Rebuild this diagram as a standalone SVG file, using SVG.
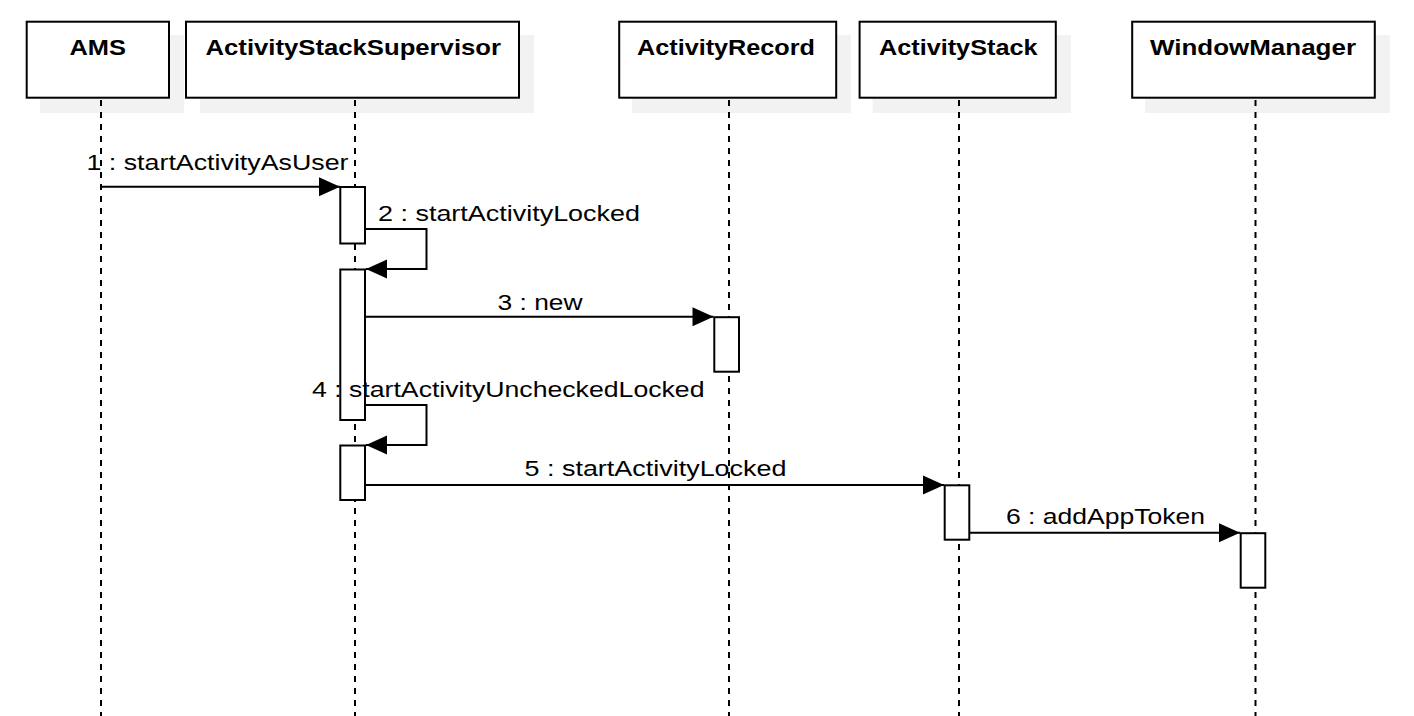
<svg xmlns="http://www.w3.org/2000/svg" width="1414" height="716" viewBox="0 0 1414 716">
<style>
.shadow{fill:#f2f2f2;stroke:none}
.box{fill:#ffffff;stroke:#000;stroke-width:2}
.title{font-family:"Liberation Sans",Arial,Helvetica,sans-serif;font-weight:bold;font-size:22.5px;fill:#000}
.life{stroke:#000;stroke-width:2;stroke-dasharray:6 6;fill:none}
.act{fill:#fff;stroke:#000;stroke-width:2}
.msg{stroke:#000;stroke-width:2;fill:none;marker-end:url(#arr)}
.lbl{font-family:"Liberation Sans",Arial,Helvetica,sans-serif;font-size:22.5px;fill:#000}
</style>
<defs>
<marker id="arr" markerUnits="userSpaceOnUse" markerWidth="22" markerHeight="20" refX="21" refY="9.5" orient="auto" overflow="visible">
<path d="M0,0 L21,9.5 L0,19 Z" fill="#000"/>
</marker>
</defs>
<rect width="1414" height="716" fill="#fff"/>
<g id="AMS">
<rect class="shadow" x="40" y="35" width="144" height="78"/>
<line class="life" x1="101" y1="100" x2="101" y2="716"/>
<rect class="box" x="26.7" y="21.7" width="142.3" height="76"/>
<text class="title" x="69.5" y="54.5" textLength="56.5" lengthAdjust="spacingAndGlyphs">AMS</text>
</g>
<g id="ActivityStackSupervisor">
<rect class="shadow" x="200" y="35" width="334" height="78"/>
<line class="life" x1="355" y1="100" x2="355" y2="716"/>
<rect class="box" x="186" y="21.7" width="333" height="76"/>
<text class="title" x="205.5" y="54.5" textLength="295.5" lengthAdjust="spacingAndGlyphs">ActivityStackSupervisor</text>
<rect class="act" x="340.3" y="187" width="24.7" height="56.5"/>
<rect class="act" x="340.3" y="269.5" width="24.7" height="150.5"/>
<rect class="act" x="340.3" y="445.5" width="24.7" height="54.5"/>
</g>
<g id="ActivityRecord">
<rect class="shadow" x="632" y="35" width="219" height="78"/>
<line class="life" x1="729" y1="100" x2="729" y2="716"/>
<rect class="box" x="619.2" y="21.7" width="217" height="76"/>
<text class="title" x="637" y="54.5" textLength="178" lengthAdjust="spacingAndGlyphs">ActivityRecord</text>
<rect class="act" x="714.3" y="317.2" width="24.7" height="54.5"/>
</g>
<g id="ActivityStack">
<rect class="shadow" x="872.6" y="35" width="198.2" height="78"/>
<line class="life" x1="959" y1="100" x2="959" y2="716"/>
<rect class="box" x="859.6" y="21.7" width="196.2" height="76"/>
<text class="title" x="879" y="54.5" textLength="158.5" lengthAdjust="spacingAndGlyphs">ActivityStack</text>
<rect class="act" x="944.7" y="485.3" width="24.6" height="54.4"/>
</g>
<g id="WindowManager">
<rect class="shadow" x="1145.2" y="35" width="244.6" height="78"/>
<line class="life" x1="1255.5" y1="100" x2="1255.5" y2="716"/>
<rect class="box" x="1132.2" y="21.7" width="242.6" height="76"/>
<text class="title" x="1150" y="54.5" textLength="206" lengthAdjust="spacingAndGlyphs">WindowManager</text>
<rect class="act" x="1240.7" y="533.2" width="24.6" height="54.5"/>
</g>
<g id="connectors">
<line class="msg" x1="101" y1="186.7" x2="340" y2="186.7"/>
<text class="lbl" x="86.5" y="170" textLength="262" lengthAdjust="spacingAndGlyphs">1 : startActivityAsUser</text>
<polyline class="msg" points="366,229 426.5,229 426.5,269 366,269"/>
<text class="lbl" x="378" y="220.5" textLength="262" lengthAdjust="spacingAndGlyphs">2 : startActivityLocked</text>
<line class="msg" x1="366" y1="316.7" x2="713.5" y2="316.7"/>
<text class="lbl" x="497.5" y="309.5" textLength="85" lengthAdjust="spacingAndGlyphs">3 : new</text>
<polyline class="msg" points="366,405 426.5,405 426.5,445 366,445"/>
<text class="lbl" x="312" y="396.7" textLength="392.5" lengthAdjust="spacingAndGlyphs">4 : startActivityUncheckedLocked</text>
<line class="msg" x1="366" y1="485" x2="944" y2="485"/>
<text class="lbl" x="524.5" y="476.3" textLength="262" lengthAdjust="spacingAndGlyphs">5 : startActivityLocked</text>
<line class="msg" x1="970" y1="532.7" x2="1240" y2="532.7"/>
<text class="lbl" x="1006" y="524.2" textLength="199" lengthAdjust="spacingAndGlyphs">6 : addAppToken</text>
</g>
</svg>
